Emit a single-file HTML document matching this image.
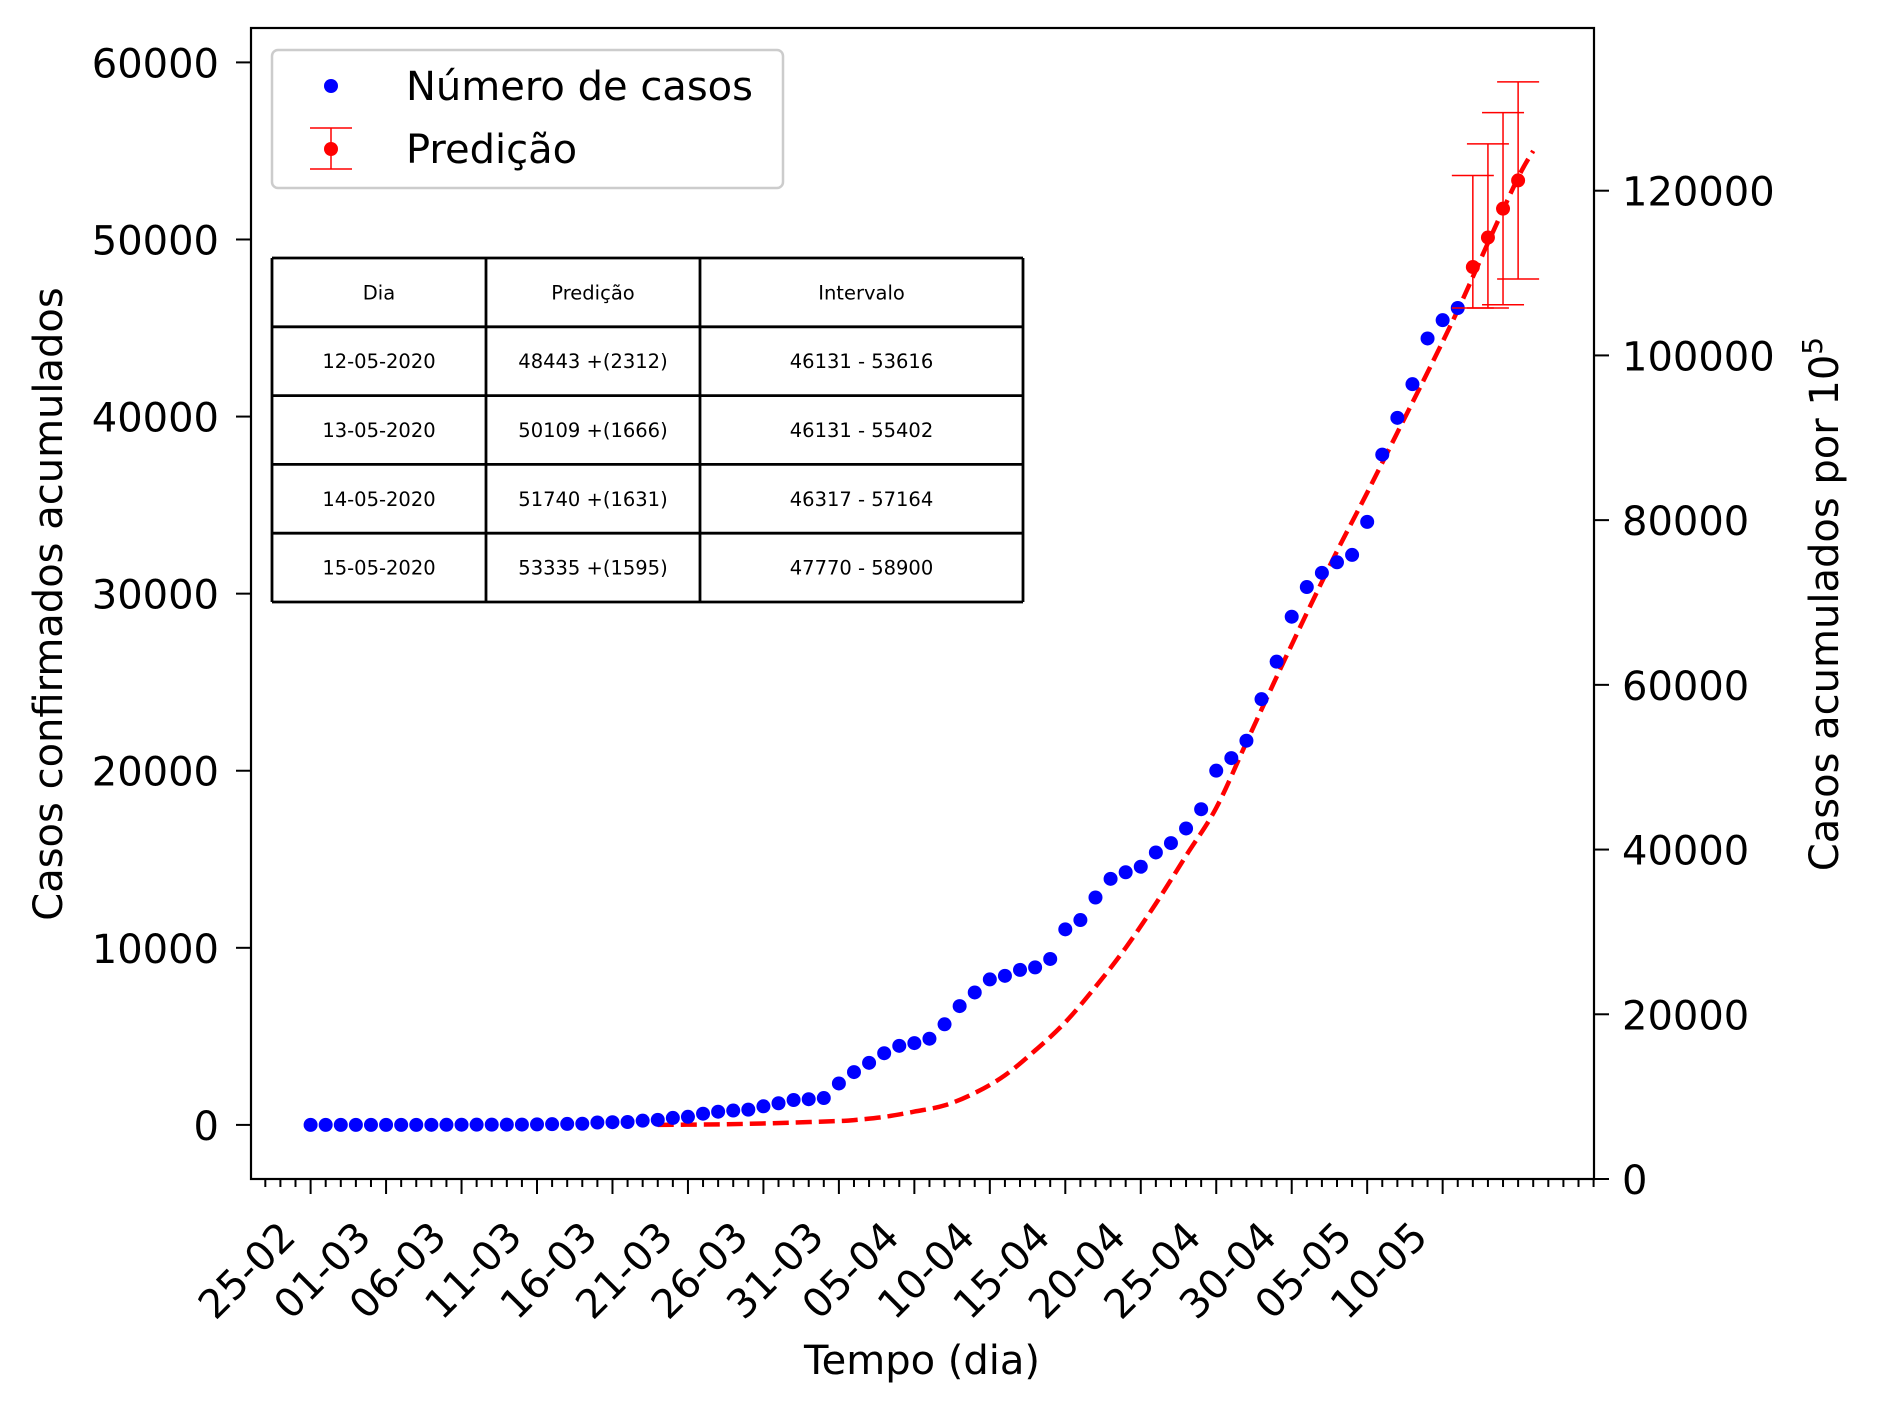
<!DOCTYPE html>
<html><head><meta charset="utf-8"><style>
body{margin:0;background:#fff}
svg text{font-family:"DejaVu Sans","Liberation Sans",sans-serif}
</style></head><body>
<svg id="chart" width="1878" height="1410" viewBox="0 0 1878 1410" xmlns="http://www.w3.org/2000/svg">
<rect width="1878" height="1410" fill="#fff"/>
<g id="plot"></g>
</svg>
<script>
const caseValues=[1,1,1,2,2,2,2,2,3,6,10,13,16,16,19,30,42,56,65,136,152,164,240,286,396,459,631,745,810,862,1052,1223,1406,1451,1517,2339,2981,3506,4048,4466,4620,4866,5682,6708,7480,8216,8419,8755,8895,9371,11043,11568,12841,13894,14267,14580,15385,15914,16740,17826,20004,20715,21696,24041,26158,28698,30374,31174,31772,32187,34053,37853,39928,41830,44411,45444,46131];
const predDays=[77,78,79,80];
const predValues=[48443,50109,51740,53335];
const predLow=[46131,46131,46317,47770];
const predHigh=[53616,55402,57164,58900];
const fitDays=[23,26,29,32,35,36,38,40,42,44,46,48,50,52,54,56,58,60,62,64,66,68,70,72,74,76,78,80,81];
const fitValues=[0,20,60,130,220,270,450,750,1100,1800,2800,4200,5800,7800,10000,12500,15200,17900,21600,25300,28900,32400,35700,39100,42500,46000,49800,53500,55000];
const xTickLabels=["25-02","01-03","06-03","11-03","16-03","21-03","26-03","31-03","05-04","10-04","15-04","20-04","25-04","30-04","05-05","10-05"];
const yTicks=[0,10000,20000,30000,40000,50000,60000];
const y2Ticks=[0,20000,40000,60000,80000,100000,120000];
const tableRows=[["12-05-2020","48443 +(2312)","46131 - 53616"],["13-05-2020","50109 +(1666)","46131 - 55402"],["14-05-2020","51740 +(1631)","46317 - 57164"],["15-05-2020","53335 +(1595)","47770 - 58900"]];

const L=251,R=1594,T=28,B=1179;
const xs=d=>310.6+d*15.094;
const ys=v=>1124.9-v*(1062.5/60000);
const ys2=v=>1179-v*(988.3/120000);
const NS="http://www.w3.org/2000/svg";
const g=document.getElementById('plot');
function el(t,a,p){const e=document.createElementNS(NS,t);for(const k in a)e.setAttribute(k,a[k]);(p||g).appendChild(e);return e;}

// smooth curve through fit points (Catmull-Rom)
const P=fitDays.map((x,i)=>[xs(x),ys(fitValues[i])]);
let d="M"+P[0][0].toFixed(1)+","+P[0][1].toFixed(1);
for(let i=0;i<P.length-1;i++){const p0=P[Math.max(0,i-1)],p1=P[i],p2=P[i+1],p3=P[Math.min(P.length-1,i+2)];
const c1=[p1[0]+(p2[0]-p0[0])/6,p1[1]+(p2[1]-p0[1])/6],c2=[p2[0]-(p3[0]-p1[0])/6,p2[1]-(p3[1]-p1[1])/6];
d+=`C${c1[0].toFixed(1)},${c1[1].toFixed(1)} ${c2[0].toFixed(1)},${c2[1].toFixed(1)} ${p2[0].toFixed(1)},${p2[1].toFixed(1)}`;}
const fit=el('path',{d:d,fill:"none",stroke:"#ff0000","stroke-width":4.5,"stroke-dasharray":"16,7"});



caseValues.forEach((v,i)=>{const c=el('circle',{cx:xs(i),cy:ys(v),r:7,fill:"#0000ff"});

});

predDays.forEach((x,i)=>{const px=xs(x);
const eb=el('g',{stroke:"#ff0000","stroke-width":1.5});


el('line',{x1:px,x2:px,y1:ys(predHigh[i]),y2:ys(predLow[i])},eb);
el('line',{x1:px-21,x2:px+21,y1:ys(predHigh[i]),y2:ys(predHigh[i])},eb);
el('line',{x1:px-21,x2:px+21,y1:ys(predLow[i]),y2:ys(predLow[i])},eb);
const c=el('circle',{cx:px,cy:ys(predValues[i]),r:7,fill:"#ff0000"});

});

const fr=el('rect',{x:L,y:T,width:R-L,height:B-T,fill:"none",stroke:"#000","stroke-width":2.2});



for(let k=-3;k<=85;k++){const x=xs(k);if(x<L||x>R)continue;el('line',{x1:x,x2:x,y1:B,y2:B+(k%5===0&&k<=75?15:8),stroke:"#000","stroke-width":2});}
xTickLabels.forEach((s,i)=>{const x=xs(i*5);const t=el('text',{x:0,y:0,"font-size":40,"text-anchor":"end",transform:`translate(${x-13},${B+60}) rotate(-45)`});t.textContent=s;

});
yTicks.forEach(v=>{const y=ys(v);el('line',{x1:L-15,x2:L,y1:y,y2:y,stroke:"#000","stroke-width":2});
const t=el('text',{x:L-32,y:y+15,"font-size":40,"text-anchor":"end"});t.textContent=v;

});
y2Ticks.forEach(v=>{const y=ys2(v);el('line',{x1:R,x2:R+15,y1:y,y2:y,stroke:"#000","stroke-width":2});
const t=el('text',{x:R+28,y:y+15,"font-size":40,"text-anchor":"start"});t.textContent=v;

});

let t=el('text',{x:0,y:0,"font-size":40,"text-anchor":"middle",transform:"translate(62,604) rotate(-90)"});t.textContent="Casos confirmados acumulados";

t=el('text',{x:0,y:0,"font-size":40,"text-anchor":"middle",transform:"translate(1838,604) rotate(-90)"});
t.innerHTML='Casos acumulados por 10<tspan font-size="28" dy="-16">5</tspan>';

t=el('text',{x:922,y:1374,"font-size":40,"text-anchor":"middle"});t.textContent="Tempo (dia)";


const lg=el('g',{});

el('rect',{x:272,y:50,width:511,height:138,rx:6,fill:"#fff",stroke:"#ccc","stroke-width":2.5},lg);
el('circle',{cx:331,cy:86,r:7,fill:"#0000ff"},lg);
t=el('text',{x:406,y:100,"font-size":40},lg);t.textContent="Número de casos";

el('line',{x1:331,x2:331,y1:128,y2:169,stroke:"#ff0000","stroke-width":1.5},lg);
el('line',{x1:310,x2:352,y1:128,y2:128,stroke:"#ff0000","stroke-width":1.5},lg);
el('line',{x1:310,x2:352,y1:169,y2:169,stroke:"#ff0000","stroke-width":1.5},lg);
el('circle',{cx:331,cy:149,r:7,fill:"#ff0000"},lg);
t=el('text',{x:406,y:163,"font-size":40},lg);t.textContent="Predição";


const tb=el('g',{});

const cx=[272,486,700,1023],ry0=258,rh=68.8;
el('rect',{x:272,y:258,width:751,height:344,fill:"#fff"},tb);
for(let r=0;r<=5;r++)el('line',{x1:272,x2:1023,y1:ry0+r*rh,y2:ry0+r*rh,stroke:"#000","stroke-width":2.8},tb);
cx.forEach(x=>el('line',{x1:x,x2:x,y1:258,y2:602,stroke:"#000","stroke-width":2.8},tb));
const rows=[["Dia","Predição","Intervalo"]].concat(tableRows);
rows.forEach((row,r)=>row.forEach((s,c)=>{const tt=el('text',{x:(cx[c]+cx[c+1])/2,y:ry0+r*rh+rh/2+7,"font-size":19.5,"text-anchor":"middle"},tb);tt.textContent=s;

}));
</script>
</body></html>
